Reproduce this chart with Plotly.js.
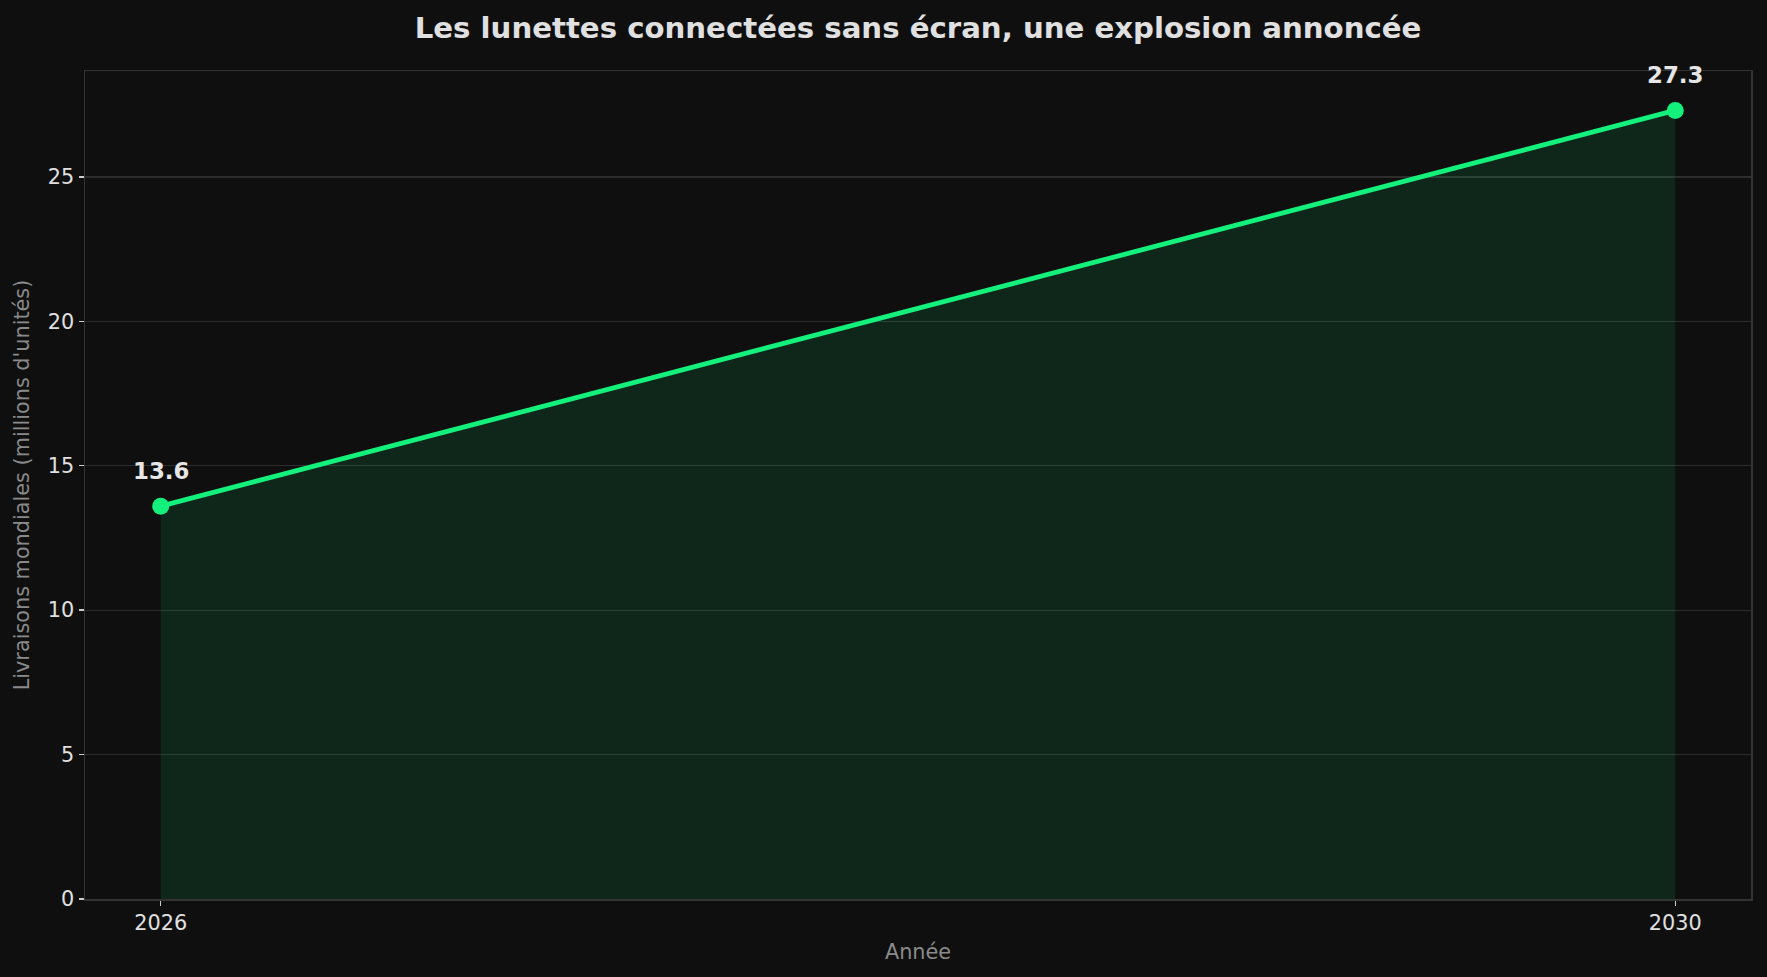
<!DOCTYPE html>
<html>
<head>
<meta charset="utf-8">
<script src="https://cdn.plot.ly/plotly-3.0.1.min.js"></script>
<style>html,body{margin:0;padding:0;background:#0f0f0f;}#chart{width:1767px;height:977px;}</style>
</head>
<body>
<div id="chart"></div>
<script>
const years = [2026, 2030];
const shipments = [13.6, 27.3];
const labels = ["13.6", "27.3"];
const yTicks = [0, 5, 10, 15, 20, 25];
const xTicks = [2026, 2030];

const font = "DejaVu Sans, sans-serif";
const trace = {
  x: years, y: shipments, type: 'scatter', mode: 'lines+markers',
  line: {color: '#14f07c', width: 4.8},
  marker: {color: '#14f07c', size: 17},
  fill: 'tozeroy', fillcolor: 'rgba(20,240,124,0.11)',
  hoverinfo: 'skip'
};
const annotations = years.map((x, i) => ({
  x: x, y: shipments[i], xref: 'x', yref: 'y', text: '<b>' + labels[i] + '</b>',
  showarrow: false, yshift: 35, font: {family: font, size: 22.9, color: '#e6e6e6'}
}));
const layout = {
  width: 1767, height: 977,
  paper_bgcolor: '#0f0f0f', plot_bgcolor: '#0f0f0f',
  margin: {l: 85, r: 16, t: 71, b: 78},
  showlegend: false,
  title: {text: '<b>Les lunettes connectées sans écran, une explosion annoncée</b>',
    font: {family: font, size: 29.2, color: '#e0e0e0'}, xref: 'paper', x: 0.5, xanchor: 'center', y: 0.972, yanchor: 'middle'},
  xaxis: {range: [2025.8, 2030.2], tickvals: xTicks, ticktext: xTicks.map(String),
    showgrid: false, zeroline: false, showline: true, mirror: true, linecolor: '#333333', linewidth: 1.5,
    ticks: 'outside', ticklen: 5, tickcolor: '#cccccc', tickwidth: 1.5,
    tickfont: {family: font, size: 20.8, color: '#e0e0e0'},
    title: {text: 'Année', font: {family: font, size: 20.8, color: '#8a8a8a'}, standoff: 10}},
  yaxis: {range: [0, 28.665], tickvals: yTicks, ticktext: yTicks.map(String),
    showgrid: true, gridcolor: '#2d2d2d', gridwidth: 1.3, zeroline: false,
    showline: true, mirror: true, linecolor: '#333333', linewidth: 1.5,
    ticks: 'outside', ticklen: 5, tickcolor: '#cccccc', tickwidth: 1.5,
    tickfont: {family: font, size: 20.8, color: '#e0e0e0'},
    title: {text: "Livraisons mondiales (millions d'unités)", font: {family: font, size: 20.8, color: '#8a8a8a'}, standoff: 12}},
  annotations: annotations
};
Plotly.newPlot('chart', [trace], layout, {displayModeBar: false, staticPlot: true});
</script>
</body>
</html>
